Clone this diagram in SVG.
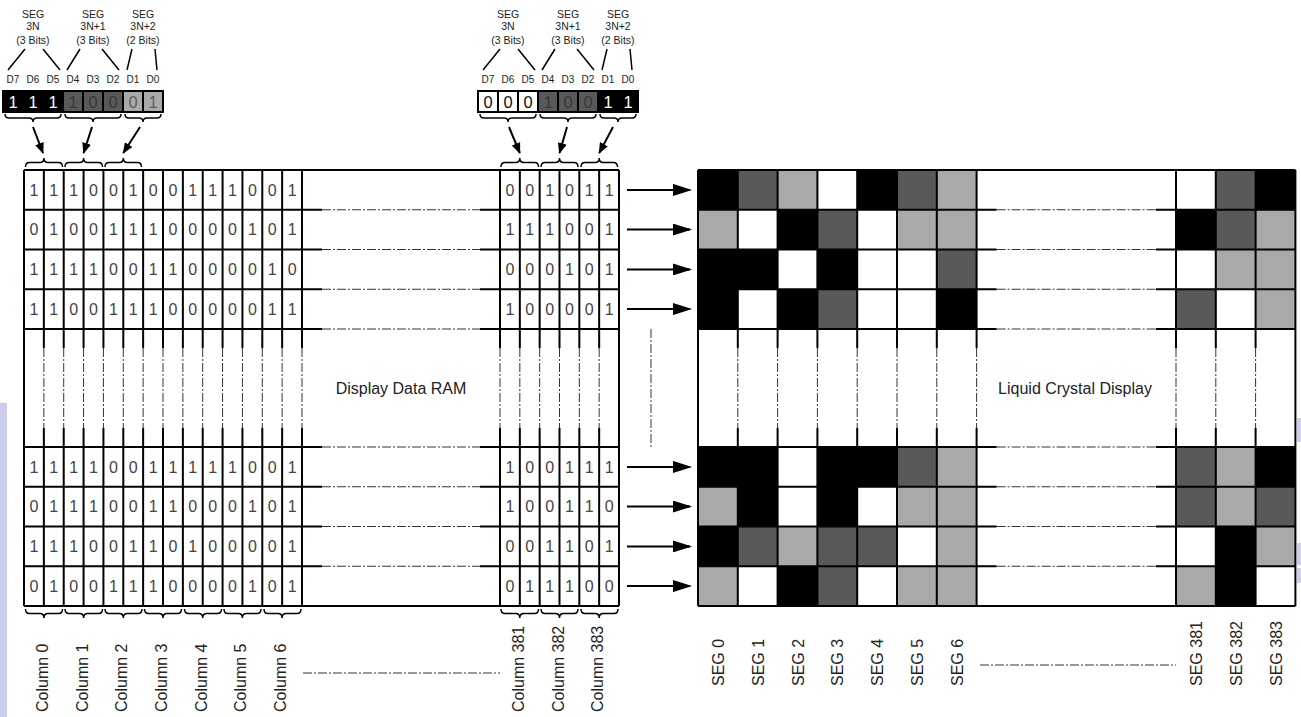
<svg xmlns="http://www.w3.org/2000/svg" width="1301" height="717" viewBox="0 0 1301 717">
<style>
text{font-family:"Liberation Sans",Arial,sans-serif;}
.hd{font-size:10.5px;fill:#222;text-anchor:middle;}
.dl{font-size:10px;fill:#222;text-anchor:middle;}
.bd{font-size:16.5px;text-anchor:middle;}
.dg{font-size:16px;fill:#444;text-anchor:middle;}
.lb{font-size:16px;fill:#222;}
.ttl{font-size:16px;fill:#222;text-anchor:middle;}
.solid{fill:none;stroke:#000;stroke-width:2;}
.dash{fill:none;stroke:#333;stroke-width:1;stroke-dasharray:9 2 2 2;}
.thin{fill:none;stroke:#000;stroke-width:1.5;}
.brace{fill:none;stroke:#000;stroke-width:1.5;}
.b{fill:#000;}.d{fill:#595959;}.l{fill:#a9a9a9;}.w{fill:#fff;}
.cell{stroke:#000;stroke-width:2;}
.arr{stroke:#000;stroke-width:2;fill:none;}
</style>
<defs>
<marker id="ha" markerWidth="11" markerHeight="9" refX="10" refY="4.5" orient="auto" markerUnits="userSpaceOnUse"><path d="M0,0 L11,4.5 L0,9 z" fill="#000"/></marker>
<marker id="ma" markerWidth="19" markerHeight="12" refX="17" refY="6" orient="auto" markerUnits="userSpaceOnUse"><path d="M0,0 L19,6 L0,12 z" fill="#000"/></marker>
</defs>
<rect width="1301" height="717" fill="#fff"/>
<g id="edge-marks">
<rect x="0" y="403" width="7" height="314" fill="#ccccee"/>
<rect x="1297" y="418" width="4" height="24" fill="#ccccee"/>
<rect x="1297" y="543" width="4" height="22" fill="#ccccee"/>
<rect x="1297" y="568" width="4" height="15" fill="#ccccee"/>
</g>

<g id="byte-left">
<text class="hd" x="33" y="18">SEG</text><text class="hd" x="33" y="30">3N</text><text class="hd" x="33" y="44">(3 Bits)</text>
<text class="hd" x="93" y="18">SEG</text><text class="hd" x="93" y="30">3N+1</text><text class="hd" x="93" y="44">(3 Bits)</text>
<text class="hd" x="143" y="18">SEG</text><text class="hd" x="143" y="30">3N+2</text><text class="hd" x="143" y="44">(2 Bits)</text>
<path class="thin" d="M25,49 L8,70 M43,49 L60,70 M80,49 L67,70 M102,49 L119,70 M132,49 L127,70 M155,49 L157,70"/>
<text class="dl" x="13" y="83">D7</text><text class="dl" x="33" y="83">D6</text><text class="dl" x="53" y="83">D5</text><text class="dl" x="73" y="83">D4</text><text class="dl" x="93" y="83">D3</text><text class="dl" x="113" y="83">D2</text><text class="dl" x="133" y="83">D1</text><text class="dl" x="153" y="83">D0</text>
<rect class="cell b" x="3" y="91" width="20" height="21"/><rect class="cell b" x="23" y="91" width="20" height="21"/><rect class="cell b" x="43" y="91" width="20" height="21"/>
<rect class="cell d" x="63" y="91" width="20" height="21"/><rect class="cell d" x="83" y="91" width="20" height="21"/><rect class="cell d" x="103" y="91" width="20" height="21"/>
<rect class="cell l" x="123" y="91" width="20" height="21"/><rect class="cell l" x="143" y="91" width="20" height="21"/>
<text class="bd" x="13 33 53" y="107.5" fill="#fff">111</text>
<text class="bd" x="73 93 113" y="107.5" fill="#383838">100</text>
<text class="bd" x="133 153" y="107.5" fill="#5e5e5e">01</text>
<path class="brace" d="M5,114 Q5,118 9,118 H29 Q33,118 33,122 Q33,118 37,118 H57 Q61,118 61,114"/>
<path class="brace" d="M65,114 Q65,118 69,118 H89 Q93,118 93,122 Q93,118 97,118 H117 Q121,118 121,114"/>
<path class="brace" d="M125,114 Q125,118 129,118 H139 Q143,118 143,122 Q143,118 147,118 H157 Q161,118 161,114"/>
</g>

<g id="byte-right">
<text class="hd" x="508" y="18">SEG</text><text class="hd" x="508" y="30">3N</text><text class="hd" x="508" y="44">(3 Bits)</text>
<text class="hd" x="568" y="18">SEG</text><text class="hd" x="568" y="30">3N+1</text><text class="hd" x="568" y="44">(3 Bits)</text>
<text class="hd" x="618" y="18">SEG</text><text class="hd" x="618" y="30">3N+2</text><text class="hd" x="618" y="44">(2 Bits)</text>
<path class="thin" d="M500,49 L483,70 M518,49 L535,70 M555,49 L542,70 M577,49 L594,70 M607,49 L602,70 M630,49 L632,70"/>
<text class="dl" x="488" y="83">D7</text><text class="dl" x="508" y="83">D6</text><text class="dl" x="528" y="83">D5</text><text class="dl" x="548" y="83">D4</text><text class="dl" x="568" y="83">D3</text><text class="dl" x="588" y="83">D2</text><text class="dl" x="608" y="83">D1</text><text class="dl" x="628" y="83">D0</text>
<rect class="cell w" x="478" y="91" width="20" height="21"/><rect class="cell w" x="498" y="91" width="20" height="21"/><rect class="cell w" x="518" y="91" width="20" height="21"/>
<rect class="cell d" x="538" y="91" width="20" height="21"/><rect class="cell d" x="558" y="91" width="20" height="21"/><rect class="cell d" x="578" y="91" width="20" height="21"/>
<rect class="cell b" x="598" y="91" width="20" height="21"/><rect class="cell b" x="618" y="91" width="20" height="21"/>
<text class="bd" x="488 508 528" y="107.5" fill="#111">000</text>
<text class="bd" x="548 568 588" y="107.5" fill="#383838">100</text>
<text class="bd" x="608 628" y="107.5" fill="#fff">11</text>
<path class="brace" d="M480,114 Q480,118 484,118 H504 Q508,118 508,122 Q508,118 512,118 H532 Q536,118 536,114"/>
<path class="brace" d="M540,114 Q540,118 544,118 H564 Q568,118 568,122 Q568,118 572,118 H592 Q596,118 596,114"/>
<path class="brace" d="M600,114 Q600,118 604,118 H614 Q618,118 618,122 Q618,118 622,118 H632 Q636,118 636,114"/>
</g>

<g id="ddram">
<path class="brace" d="M25.5,167 Q25.5,162.5 29.5,162.5 H39.9 Q43.9,162.5 43.9,158 Q43.9,162.5 47.9,162.5 H58.5 Q62.5,162.5 62.5,167"/>
<path class="brace" d="M65,167 Q65,162.5 69,162.5 H79.6 Q83.6,162.5 83.6,158 Q83.6,162.5 87.6,162.5 H98.5 Q102.5,162.5 102.5,167"/>
<path class="brace" d="M105,167 Q105,162.5 109,162.5 H119.3 Q123.3,162.5 123.3,158 Q123.3,162.5 127.3,162.5 H137.5 Q141.5,162.5 141.5,167"/>
<path class="brace" d="M501,167 Q501,162.5 505,162.5 H515.8 Q519.8,162.5 519.8,158 Q519.8,162.5 523.8,162.5 H534.5 Q538.5,162.5 538.5,167"/>
<path class="brace" d="M541,167 Q541,162.5 545,162.5 H555.5 Q559.5,162.5 559.5,158 Q559.5,162.5 563.5,162.5 H574 Q578,162.5 578,167"/>
<path class="brace" d="M581,167 Q581,162.5 585,162.5 H595.2 Q599.2,162.5 599.2,158 Q599.2,162.5 603.2,162.5 H613.5 Q617.5,162.5 617.5,167"/>
<path class="solid" d="M24,170 H619 M24,606 H619 M24,170 V606 M619,170 V606
M43.86,170 V348 M43.86,428 V606 M63.71,170 V348 M63.71,428 V606 M83.57,170 V348 M83.57,428 V606 M103.43,170 V348 M103.43,428 V606
M123.29,170 V348 M123.29,428 V606 M143.14,170 V348 M143.14,428 V606 M163,170 V348 M163,428 V606 M182.86,170 V348 M182.86,428 V606
M202.71,170 V348 M202.71,428 V606 M222.57,170 V348 M222.57,428 V606 M242.43,170 V348 M242.43,428 V606 M262.29,170 V348 M262.29,428 V606
M282.14,170 V348 M282.14,428 V606 M302,170 V348 M302,428 V606
M500,170 V348 M500,428 V606 M519.83,170 V348 M519.83,428 V606 M539.67,170 V348 M539.67,428 V606 M559.5,170 V348 M559.5,428 V606
M579.33,170 V348 M579.33,428 V606 M599.17,170 V348 M599.17,428 V606
M24,209.75 H322 M480,209.75 H619 M24,249.5 H322 M480,249.5 H619 M24,289.25 H322 M480,289.25 H619 M24,329 H322 M480,329 H619
M24,447 H322 M480,447 H619 M24,486.75 H322 M480,486.75 H619 M24,526.5 H322 M480,526.5 H619 M24,566.25 H322 M480,566.25 H619"/>
<path class="dash" d="M43.86,348 V428 M63.71,348 V428 M83.57,348 V428 M103.43,348 V428 M123.29,348 V428 M143.14,348 V428 M163,348 V428
M182.86,348 V428 M202.71,348 V428 M222.57,348 V428 M242.43,348 V428 M262.29,348 V428 M282.14,348 V428 M302,348 V428
M500,348 V428 M519.83,348 V428 M539.67,348 V428 M559.5,348 V428 M579.33,348 V428 M599.17,348 V428
M322,209.75 H480 M322,249.5 H480 M322,289.25 H480 M322,329 H480 M322,447 H480 M322,486.75 H480 M322,526.5 H480 M322,566.25 H480"/>
<text class="dg" x="34 53.8 73.6 93.5 113.4 133.2 153.1 172.9 192.8 212.6 232.5 252.4 272.2 292.1" y="195.6">11100100111001</text>
<text class="dg" x="34 53.8 73.6 93.5 113.4 133.2 153.1 172.9 192.8 212.6 232.5 252.4 272.2 292.1" y="235.4">01001110000101</text>
<text class="dg" x="34 53.8 73.6 93.5 113.4 133.2 153.1 172.9 192.8 212.6 232.5 252.4 272.2 292.1" y="275.1">11110011000010</text>
<text class="dg" x="34 53.8 73.6 93.5 113.4 133.2 153.1 172.9 192.8 212.6 232.5 252.4 272.2 292.1" y="314.9">11001110000011</text>
<text class="dg" x="34 53.8 73.6 93.5 113.4 133.2 153.1 172.9 192.8 212.6 232.5 252.4 272.2 292.1" y="472.6">11110011111001</text>
<text class="dg" x="34 53.8 73.6 93.5 113.4 133.2 153.1 172.9 192.8 212.6 232.5 252.4 272.2 292.1" y="512.4">01110011000101</text>
<text class="dg" x="34 53.8 73.6 93.5 113.4 133.2 153.1 172.9 192.8 212.6 232.5 252.4 272.2 292.1" y="552.1">11100110100001</text>
<text class="dg" x="34 53.8 73.6 93.5 113.4 133.2 153.1 172.9 192.8 212.6 232.5 252.4 272.2 292.1" y="591.9">01001110000101</text>
<text class="dg" x="509.9 529.8 549.6 569.4 589.3 609.1" y="195.6">001011</text>
<text class="dg" x="509.9 529.8 549.6 569.4 589.3 609.1" y="235.4">111001</text>
<text class="dg" x="509.9 529.8 549.6 569.4 589.3 609.1" y="275.1">000101</text>
<text class="dg" x="509.9 529.8 549.6 569.4 589.3 609.1" y="314.9">100001</text>
<text class="dg" x="509.9 529.8 549.6 569.4 589.3 609.1" y="472.6">100111</text>
<text class="dg" x="509.9 529.8 549.6 569.4 589.3 609.1" y="512.4">100110</text>
<text class="dg" x="509.9 529.8 549.6 569.4 589.3 609.1" y="552.1">001101</text>
<text class="dg" x="509.9 529.8 549.6 569.4 589.3 609.1" y="591.9">011100</text>
<text class="ttl" x="401" y="393.5">Display Data RAM</text>
<path class="brace" d="M25.5,609 Q25.5,613.5 29.5,613.5 H39.9 Q43.9,613.5 43.9,618 Q43.9,613.5 47.9,613.5 H58.5 Q62.5,613.5 62.5,609"/>
<path class="brace" d="M65,609 Q65,613.5 69,613.5 H79.6 Q83.6,613.5 83.6,618 Q83.6,613.5 87.6,613.5 H98.5 Q102.5,613.5 102.5,609"/>
<path class="brace" d="M105,609 Q105,613.5 109,613.5 H119.3 Q123.3,613.5 123.3,618 Q123.3,613.5 127.3,613.5 H138 Q142,613.5 142,609"/>
<path class="brace" d="M144.5,609 Q144.5,613.5 148.5,613.5 H159 Q163,613.5 163,618 Q163,613.5 167,613.5 H177.5 Q181.5,613.5 181.5,609"/>
<path class="brace" d="M184.5,609 Q184.5,613.5 188.5,613.5 H198.7 Q202.7,613.5 202.7,618 Q202.7,613.5 206.7,613.5 H217.5 Q221.5,613.5 221.5,609"/>
<path class="brace" d="M224,609 Q224,613.5 228,613.5 H238.4 Q242.4,613.5 242.4,618 Q242.4,613.5 246.4,613.5 H257 Q261,613.5 261,609"/>
<path class="brace" d="M264,609 Q264,613.5 268,613.5 H278.1 Q282.1,613.5 282.1,618 Q282.1,613.5 286.1,613.5 H297 Q301,613.5 301,609"/>
<path class="brace" d="M501,609 Q501,613.5 505,613.5 H515.8 Q519.8,613.5 519.8,618 Q519.8,613.5 523.8,613.5 H534.5 Q538.5,613.5 538.5,609"/>
<path class="brace" d="M541,609 Q541,613.5 545,613.5 H555.5 Q559.5,613.5 559.5,618 Q559.5,613.5 563.5,613.5 H574 Q578,613.5 578,609"/>
<path class="brace" d="M581,609 Q581,613.5 585,613.5 H595.2 Q599.2,613.5 599.2,618 Q599.2,613.5 603.2,613.5 H614 Q618,613.5 618,609"/>
</g>

<g id="lcd">
<rect x="698" y="170" width="597.4" height="436" fill="#fff"/>
<g>
<rect class="b" x="698" y="170" width="39.8" height="39.75"/><rect class="d" x="737.8" y="170" width="39.8" height="39.75"/><rect class="l" x="777.6" y="170" width="39.8" height="39.75"/><rect class="b" x="857.2" y="170" width="39.8" height="39.75"/><rect class="d" x="897" y="170" width="39.8" height="39.75"/><rect class="l" x="936.8" y="170" width="39.8" height="39.75"/><rect class="d" x="1215.8" y="170" width="39.8" height="39.75"/><rect class="b" x="1255.6" y="170" width="39.8" height="39.75"/>
<rect class="l" x="698" y="209.75" width="39.8" height="39.75"/><rect class="b" x="777.6" y="209.75" width="39.8" height="39.75"/><rect class="d" x="817.4" y="209.75" width="39.8" height="39.75"/><rect class="l" x="897" y="209.75" width="39.8" height="39.75"/><rect class="l" x="936.8" y="209.75" width="39.8" height="39.75"/><rect class="b" x="1176" y="209.75" width="39.8" height="39.75"/><rect class="d" x="1215.8" y="209.75" width="39.8" height="39.75"/><rect class="l" x="1255.6" y="209.75" width="39.8" height="39.75"/>
<rect class="b" x="698" y="249.5" width="39.8" height="39.75"/><rect class="b" x="737.8" y="249.5" width="39.8" height="39.75"/><rect class="b" x="817.4" y="249.5" width="39.8" height="39.75"/><rect class="d" x="936.8" y="249.5" width="39.8" height="39.75"/><rect class="l" x="1215.8" y="249.5" width="39.8" height="39.75"/><rect class="l" x="1255.6" y="249.5" width="39.8" height="39.75"/>
<rect class="b" x="698" y="289.25" width="39.8" height="39.75"/><rect class="b" x="777.6" y="289.25" width="39.8" height="39.75"/><rect class="d" x="817.4" y="289.25" width="39.8" height="39.75"/><rect class="b" x="936.8" y="289.25" width="39.8" height="39.75"/><rect class="d" x="1176" y="289.25" width="39.8" height="39.75"/><rect class="l" x="1255.6" y="289.25" width="39.8" height="39.75"/>
<rect class="b" x="698" y="447" width="39.8" height="39.75"/><rect class="b" x="737.8" y="447" width="39.8" height="39.75"/><rect class="b" x="817.4" y="447" width="39.8" height="39.75"/><rect class="b" x="857.2" y="447" width="39.8" height="39.75"/><rect class="d" x="897" y="447" width="39.8" height="39.75"/><rect class="l" x="936.8" y="447" width="39.8" height="39.75"/><rect class="d" x="1176" y="447" width="39.8" height="39.75"/><rect class="l" x="1215.8" y="447" width="39.8" height="39.75"/><rect class="b" x="1255.6" y="447" width="39.8" height="39.75"/>
<rect class="l" x="698" y="486.75" width="39.8" height="39.75"/><rect class="b" x="737.8" y="486.75" width="39.8" height="39.75"/><rect class="b" x="817.4" y="486.75" width="39.8" height="39.75"/><rect class="l" x="897" y="486.75" width="39.8" height="39.75"/><rect class="l" x="936.8" y="486.75" width="39.8" height="39.75"/><rect class="d" x="1176" y="486.75" width="39.8" height="39.75"/><rect class="l" x="1215.8" y="486.75" width="39.8" height="39.75"/><rect class="d" x="1255.6" y="486.75" width="39.8" height="39.75"/>
<rect class="b" x="698" y="526.5" width="39.8" height="39.75"/><rect class="d" x="737.8" y="526.5" width="39.8" height="39.75"/><rect class="l" x="777.6" y="526.5" width="39.8" height="39.75"/><rect class="d" x="817.4" y="526.5" width="39.8" height="39.75"/><rect class="d" x="857.2" y="526.5" width="39.8" height="39.75"/><rect class="l" x="936.8" y="526.5" width="39.8" height="39.75"/><rect class="b" x="1215.8" y="526.5" width="39.8" height="39.75"/><rect class="l" x="1255.6" y="526.5" width="39.8" height="39.75"/>
<rect class="l" x="698" y="566.25" width="39.8" height="39.75"/><rect class="b" x="777.6" y="566.25" width="39.8" height="39.75"/><rect class="d" x="817.4" y="566.25" width="39.8" height="39.75"/><rect class="l" x="897" y="566.25" width="39.8" height="39.75"/><rect class="l" x="936.8" y="566.25" width="39.8" height="39.75"/><rect class="l" x="1176" y="566.25" width="39.8" height="39.75"/><rect class="b" x="1215.8" y="566.25" width="39.8" height="39.75"/>
</g>
<path class="solid" d="M698,170 H1295.4 M698,606 H1295.4 M698,170 V606 M1295.4,170 V606
M737.8,170 V348 M737.8,428 V606 M777.6,170 V348 M777.6,428 V606 M817.4,170 V348 M817.4,428 V606 M857.2,170 V348 M857.2,428 V606
M897,170 V348 M897,428 V606 M936.8,170 V348 M936.8,428 V606 M976.6,170 V348 M976.6,428 V606
M1176,170 V348 M1176,428 V606 M1215.8,170 V348 M1215.8,428 V606 M1255.6,170 V348 M1255.6,428 V606
M698,209.75 H996.6 M1156,209.75 H1295.4 M698,249.5 H996.6 M1156,249.5 H1295.4 M698,289.25 H996.6 M1156,289.25 H1295.4 M698,329 H996.6 M1156,329 H1295.4
M698,447 H996.6 M1156,447 H1295.4 M698,486.75 H996.6 M1156,486.75 H1295.4 M698,526.5 H996.6 M1156,526.5 H1295.4 M698,566.25 H996.6 M1156,566.25 H1295.4"/>
<path class="dash" d="M737.8,348 V428 M777.6,348 V428 M817.4,348 V428 M857.2,348 V428 M897,348 V428 M936.8,348 V428 M976.6,348 V428
M1176,348 V428 M1215.8,348 V428 M1255.6,348 V428
M996.6,209.75 H1156 M996.6,249.5 H1156 M996.6,289.25 H1156 M996.6,329 H1156 M996.6,447 H1156 M996.6,486.75 H1156 M996.6,526.5 H1156 M996.6,566.25 H1156"/>
<text class="ttl" x="1075" y="393.5">Liquid Crystal Display</text>
</g>

<g id="column-labels">
<text class="lb" transform="translate(47.9,712) rotate(-90)">Column 0</text>
<text class="lb" transform="translate(87.6,712) rotate(-90)">Column 1</text>
<text class="lb" transform="translate(127.3,712) rotate(-90)">Column 2</text>
<text class="lb" transform="translate(167,712) rotate(-90)">Column 3</text>
<text class="lb" transform="translate(206.7,712) rotate(-90)">Column 4</text>
<text class="lb" transform="translate(246.4,712) rotate(-90)">Column 5</text>
<text class="lb" transform="translate(286.1,712) rotate(-90)">Column 6</text>
<text class="lb" transform="translate(523.8,712) rotate(-90)">Column 381</text>
<text class="lb" transform="translate(563.5,712) rotate(-90)">Column 382</text>
<text class="lb" transform="translate(603.2,712) rotate(-90)">Column 383</text>
<path class="dash" d="M303,673 H500"/>
</g>

<g id="seg-labels">
<text class="lb" transform="translate(723.9,686) rotate(-90)">SEG 0</text>
<text class="lb" transform="translate(763.7,686) rotate(-90)">SEG 1</text>
<text class="lb" transform="translate(803.5,686) rotate(-90)">SEG 2</text>
<text class="lb" transform="translate(843.3,686) rotate(-90)">SEG 3</text>
<text class="lb" transform="translate(883.1,686) rotate(-90)">SEG 4</text>
<text class="lb" transform="translate(922.9,686) rotate(-90)">SEG 5</text>
<text class="lb" transform="translate(962.7,686) rotate(-90)">SEG 6</text>
<text class="lb" transform="translate(1201.9,686) rotate(-90)">SEG 381</text>
<text class="lb" transform="translate(1241.7,686) rotate(-90)">SEG 382</text>
<text class="lb" transform="translate(1281.5,686) rotate(-90)">SEG 383</text>
<path class="dash" d="M980,665 H1176"/>
</g>

<g id="connectors">
<line class="arr" x1="33" y1="127" x2="43" y2="153" marker-end="url(#ha)"/>
<line class="arr" x1="92" y1="127" x2="83.6" y2="153" marker-end="url(#ha)"/>
<line class="arr" x1="140" y1="127" x2="123.3" y2="153" marker-end="url(#ha)"/>
<line class="arr" x1="509" y1="127" x2="519.8" y2="153" marker-end="url(#ha)"/>
<line class="arr" x1="567" y1="127" x2="559.5" y2="153" marker-end="url(#ha)"/>
<line class="arr" x1="613" y1="127" x2="599.2" y2="153" marker-end="url(#ha)"/>
<line class="arr" x1="627" y1="189.9" x2="690" y2="189.9" marker-end="url(#ma)"/>
<line class="arr" x1="627" y1="229.6" x2="690" y2="229.6" marker-end="url(#ma)"/>
<line class="arr" x1="627" y1="269.4" x2="690" y2="269.4" marker-end="url(#ma)"/>
<line class="arr" x1="627" y1="309.1" x2="690" y2="309.1" marker-end="url(#ma)"/>
<line class="arr" x1="627" y1="466.9" x2="690" y2="466.9" marker-end="url(#ma)"/>
<line class="arr" x1="627" y1="506.6" x2="690" y2="506.6" marker-end="url(#ma)"/>
<line class="arr" x1="627" y1="546.4" x2="690" y2="546.4" marker-end="url(#ma)"/>
<line class="arr" x1="627" y1="586.1" x2="690" y2="586.1" marker-end="url(#ma)"/>
<path class="dash" d="M651,329 V447"/>
</g>
</svg>
